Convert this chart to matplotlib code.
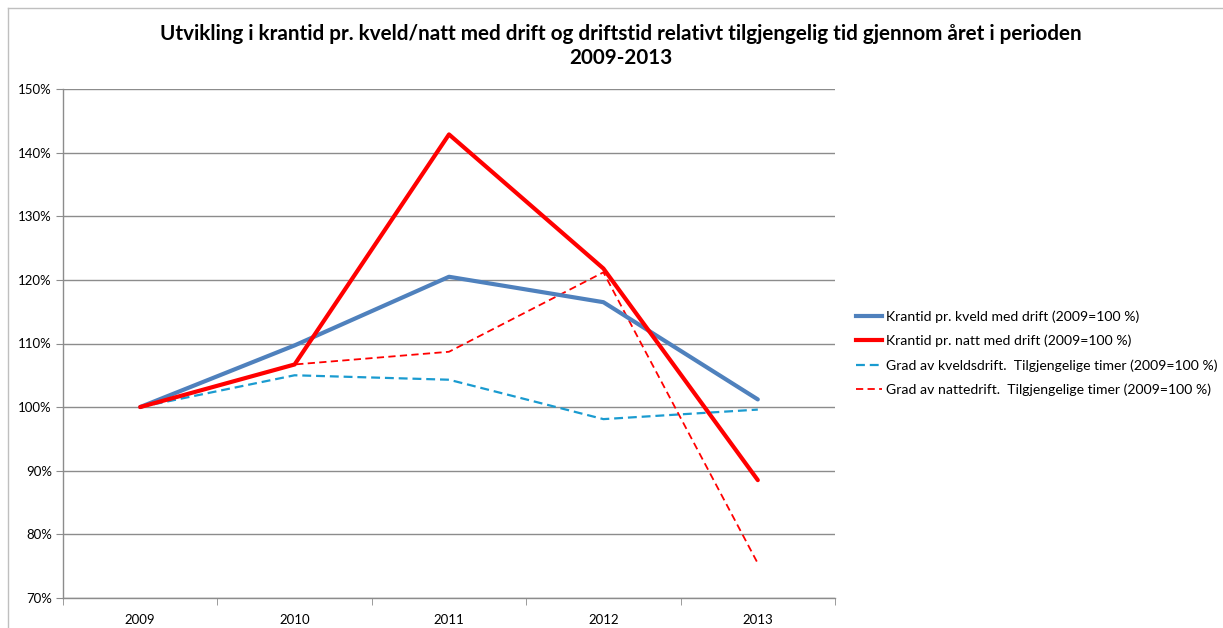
import matplotlib
matplotlib.use("Agg")
import matplotlib.pyplot as plt
from matplotlib.ticker import FixedLocator, PercentFormatter
from matplotlib.lines import Line2D

plt.rcParams['font.family'] = ['Lato', 'DejaVu Sans']

years = ["2009", "2010", "2011", "2012", "2013"]
kveld_krantid = [100.0, 109.7, 120.5, 116.5, 101.2]
natt_krantid = [100.0, 106.7, 142.9, 121.8, 88.5]
grad_kveld = [100.0, 105.0, 104.3, 98.1, 99.6]
grad_natt = [100.0, 106.7, 108.7, 121.2, 75.4]

labels = [
    "Krantid pr. kveld med drift (2009=100 %)",
    "Krantid pr. natt med drift (2009=100 %)",
    "Grad av kveldsdrift.  Tilgjengelige timer (2009=100 %)",
    "Grad av nattedrift.  Tilgjengelige timer (2009=100 %)",
]
title = ("Utvikling i krantid pr. kveld/natt med drift og driftstid relativt tilgjengelig tid gjennom året i perioden\n"
         "2009-2013")

W, H = 1223, 628
fig = plt.figure(figsize=(W / 100, H / 100), dpi=100)
ax = fig.add_axes([63 / W, 1 - 597.7 / H, (835 - 63) / W, (597.7 - 89.3) / H])

x = list(range(len(years)))
grid_c = "#8C8C8C"

ax.plot(x, kveld_krantid, color="#4F81BD", lw=3.0, solid_joinstyle="round", solid_capstyle="round", zorder=4)
ax.plot(x, natt_krantid, color="#FF0000", lw=3.0, solid_joinstyle="round", solid_capstyle="round", zorder=5)
ax.plot(x, grad_kveld, color="#1A9BD0", lw=1.6, dashes=(4, 2.2), zorder=3)
ax.plot(x, grad_natt, color="#FF0000", lw=1.3, dashes=(4, 2.4), zorder=3)

ax.set_xlim(-0.5, len(years) - 0.5)
ax.set_ylim(70, 150)
ax.yaxis.set_major_locator(FixedLocator(list(range(70, 151, 10))))
ax.yaxis.set_major_formatter(PercentFormatter(decimals=0))
ax.grid(axis="y", color=grid_c, lw=1.0)
ax.set_axisbelow(True)

ax.set_xticks(x)
ax.set_xticklabels(years)
ax.set_xticks([i - 0.5 for i in range(len(years) + 1)], minor=True)
ax.tick_params(axis="x", which="major", length=0, pad=12, labelsize=9.5, colors="black")
ax.tick_params(axis="x", which="minor", length=5, color=grid_c, direction="out")
ax.tick_params(axis="y", length=5, color=grid_c, labelsize=9.5, pad=3)

for s in ["top", "right"]:
    ax.spines[s].set_visible(False)
for s in ["left", "bottom"]:
    ax.spines[s].set_color(grid_c)
    ax.spines[s].set_linewidth(1.0)

fig.text(621 / W, 1 - 46 / H, title, ha="center", va="center", fontsize=14.9,
         fontweight="bold", linespacing=1.3)

handles = [
    Line2D([], [], color="#4F81BD", lw=3.0),
    Line2D([], [], color="#FF0000", lw=3.0),
    Line2D([], [], color="#1A9BD0", lw=1.6, dashes=(4, 2.2)),
    Line2D([], [], color="#FF0000", lw=1.3, dashes=(4, 2.4)),
]
fig.legend(handles, labels, loc="center left", bbox_to_anchor=(850 / W, 1 - 353 / H),
           frameon=False, fontsize=10.1, handlelength=1.85, handletextpad=0.35,
           labelspacing=0.85, borderaxespad=0)

# chart area border (top and left)
fig.add_artist(Line2D([8 / W, 1], [1 - 8 / H, 1 - 8 / H], color="#BFBFBF", lw=1.0))
fig.add_artist(Line2D([8 / W, 8 / W], [0, 1 - 8 / H], color="#BFBFBF", lw=1.0))

fig.savefig("out.png", dpi=100)
